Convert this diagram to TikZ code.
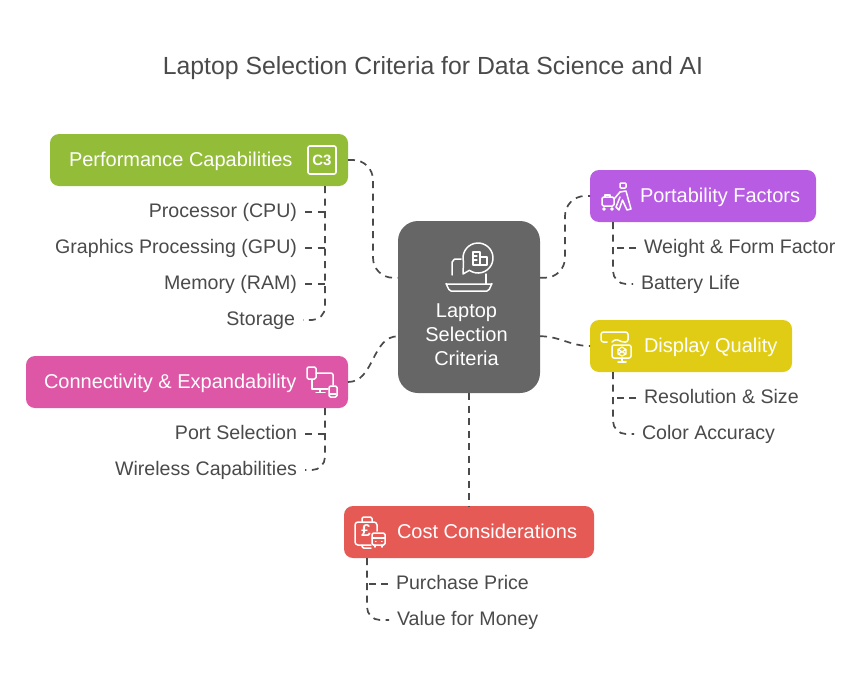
\documentclass[tikz,border=0pt]{standalone}
\usepackage{fontspec}
\setmainfont{Liberation Sans}
\usetikzlibrary{positioning,calc}
\definecolor{HubGray}{RGB}{102,102,102}
\definecolor{PerfGreen}{RGB}{147,189,56}
\definecolor{PortPurple}{RGB}{184,92,227}
\definecolor{DispYellow}{RGB}{224,204,20}
\definecolor{ConnPink}{RGB}{222,87,166}
\definecolor{CostRed}{RGB}{229,90,85}
\definecolor{InkGray}{RGB}{74,74,74}
\begin{document}
\begin{tikzpicture}[
    x=1pt, y=-1pt,
    card/.style={rounded corners=9pt, inner sep=0pt, outer sep=0pt, minimum height=52pt},
    cardtxt/.style={inner sep=0pt, outer sep=0pt, text=white, font=\fontsize{20}{24}\selectfont, text height=17pt, text depth=5pt},
    itemL/.style={inner ysep=0pt, inner xsep=8pt, outer sep=0pt, text=InkGray, font=\fontsize{19.6}{24}\selectfont, text height=16pt, text depth=5pt, anchor=east},
    itemR/.style={itemL, anchor=west},
    link/.style={draw=InkGray, line width=1.7pt, dash pattern=on 7pt off 5.5pt},
    glyph/.style={draw=white, line width=1.5pt, line join=round, line cap=round}
  ]
    \useasboundingbox (0,0) rectangle (866,680);
    \node[inner sep=0pt, text=InkGray, font=\fontsize{24.8}{30}\selectfont] (title) at (433,68) {Laptop Selection Criteria for Data Science and AI};

    \node[card, rounded corners=20pt, fill=HubGray, minimum width=142pt, minimum height=172pt] (hub) at (469,307) {};
    \node[card, fill=PerfGreen, minimum width=298pt] (perf) at (199,160) {};
    \node[card, fill=PortPurple, minimum width=226pt] (port) at (703,196) {};
    \node[card, fill=DispYellow, minimum width=202pt] (disp) at (691,346) {};
    \node[card, fill=ConnPink, minimum width=322pt] (conn) at (187,382) {};
    \node[card, fill=CostRed, minimum width=250pt] (cost) at (469,532) {};

    \node[cardtxt, align=center, text height=, text depth=, below=83pt of hub.north, xshift=-2.5pt] (hubtxt) {Laptop\\Selection\\Criteria};
    \node[cardtxt, right=19pt of perf.west] (perftxt) {Performance Capabilities};
    \node[cardtxt, right=50pt of port.west] (porttxt) {Portability Factors};
    \node[cardtxt, right=54pt of disp.west] (disptxt) {Display Quality};
    \node[cardtxt, right=18pt of conn.west] (conntxt) {Connectivity \& Expandability};
    \node[cardtxt, right=53pt of cost.west] (costtxt) {Cost Considerations};

    \node[itemL] (cpu) at (305,212) {Processor (CPU)};
    \node[itemL, below=15pt of cpu.south east, anchor=north east] (gpu) {Graphics Processing (GPU)};
    \node[itemL, below=15pt of gpu.south east, anchor=north east] (ram) {Memory (RAM)};
    \node[itemL, below=15pt of ram.south east, anchor=north east, xshift=-2pt] (disk) {Storage};
    \node[itemL] (ports) at (305,434) {Port Selection};
    \node[itemL, below=15pt of ports.south east, anchor=north east] (wifi) {Wireless Capabilities};
    \node[itemR] (weight) at (636,248) {Weight \& Form Factor};
    \node[itemR, below=15pt of weight.south west, anchor=north west, xshift=-3pt] (batt) {Battery Life};
    \node[itemR] (res) at (636,398) {Resolution \& Size};
    \node[itemR, below=15pt of res.south west, anchor=north west, xshift=-2pt] (color) {Color Accuracy};
    \node[itemR] (price) at (388,584) {Purchase Price};
    \node[itemR, below=15pt of price.south west, anchor=north west, xshift=1pt] (value) {Value for Money};

    % hub to the five cards
    \coordinate (hubLa) at ($(hub.north west)!.33!(hub.south west)$);
    \coordinate (hubLb) at ($(hub.north west)!.67!(hub.south west)$);
    \coordinate (hubRa) at ($(hub.north east)!.33!(hub.south east)$);
    \coordinate (hubRb) at ($(hub.north east)!.67!(hub.south east)$);
    \draw[link, rounded corners=20pt] (perf.east) -| ($(perf.east)!.5!(hubLa)$) |- (hubLa);
    \draw[link] (conn.east) to[out=0,in=180] (hubLb);
    \draw[link, rounded corners=20pt] (hubRa) -| ($(hubRa)!.5!(port.west)$) |- (port.west);
    \draw[link] (hubRb) to[out=0,in=180] (disp.west);
    \draw[link] (hub.south) -- (cost.north);

    % trunks under the cards
    \coordinate (perfT) at ($(perf.south east)+(-23,0)$);
    \coordinate (connT) at ($(conn.south east)+(-23,0)$);
    \coordinate (portT) at ($(port.south west)+(23,0)$);
    \coordinate (dispT) at ($(disp.south west)+(23,0)$);
    \coordinate (costT) at ($(cost.south west)+(23,0)$);
    \draw[link, rounded corners=13pt] (perfT) |- (disk.east);
    \draw[link, rounded corners=13pt] (connT) |- (wifi.east);
    \draw[link, rounded corners=13pt] (portT) |- (batt.west);
    \draw[link, rounded corners=13pt] (dispT) |- (color.west);
    \draw[link, rounded corners=13pt] (costT) |- (value.west);
    \foreach \leaf in {cpu,gpu,ram} \draw[link] (\leaf.east) -- (\leaf.east -| perfT);
    \draw[link] (ports.east) -- (ports.east -| connT);
    \draw[link] (weight.west) -- (weight.west -| portT);
    \draw[link] (res.west) -- (res.west -| dispT);
    \draw[link] (price.west) -- (price.west -| costT);

    % icons
    \node[draw=white, line width=1.6pt, rounded corners=2pt, minimum size=28pt, inner sep=0pt, text=white, font=\bfseries\fontsize{15}{18}\selectfont] (chip) at (322,160) {C3};

    \draw[glyph] (461,259) -- (455,259) to[out=180,in=-90] (452,262) -- (452,275);
    \draw[glyph] (486,274) -- (486,284);
    \draw[glyph] (446,284) -- (492,284) to[out=90,in=0] (487,291) -- (451,291) to[out=180,in=90] cycle;
    \draw[glyph] (469.4,270.3) -- (463,274) -- (463.5,261.9) arc[start angle=165, end angle=485, radius=15];
    \draw[glyph, line width=1.3pt] (473,265) -- (473,252) -- (480,252) -- (480,265) -- cycle (480,257) -- (487,257) -- (487,265) -- (480,265) (473,256) -- (477,256) (473,260) -- (477,260);

    \draw[glyph, rounded corners=1pt] (620,183) -- (626,183) -- (626,188) -- (620,188) -- cycle;
    \draw[glyph] (614,199) -- (620,192) -- (626,191) -- (631,209) -- (627,210) -- (622.5,200) -- (619,210) -- (616,207) -- (620,197);
    \draw[glyph, rounded corners=1.5pt] (602,197) rectangle (614,206);
    \draw[glyph] (605,197) -- (605,195) -- (610,195) -- (610,197);
    \draw[glyph] (604,209) circle (1pt) (612,209) circle (1pt);

    \draw[glyph, rounded corners=2.5pt] (607,342) -- (601,342) -- (601,332) -- (628,332) -- (628,342) -- (622,342) -- (616,339) -- (612,342);
    \draw[glyph, rounded corners=2pt] (612,345) rectangle (631,358);
    \draw[glyph] (622,358) -- (622,361) (618,362) -- (626,362);
    \draw[glyph, line width=1.2pt] (622,347) -- (626,349.5) -- (626,354) -- (622,356) -- (618,354) -- (618,349.5) -- cycle (618,349.5) -- (626,354) (626,349.5) -- (618,354);

    \draw[glyph, rounded corners=1.5pt] (307,367) rectangle (316,379);
    \draw[glyph, rounded corners=2pt] (316,373) -- (333,373) -- (333,385);
    \draw[glyph] (312,380) -- (312,389) -- (328,389) (320,389) -- (320,392) (316,392.5) -- (325,392.5);
    \draw[glyph, rounded corners=1.5pt] (329,386) rectangle (337,397);
    \draw[glyph] (330,394) -- (336,394);

    \node[inner sep=0pt, text=white, font=\bfseries\fontsize{17}{18}\selectfont] (pound) at (366,531) {£};
    \draw[glyph, rounded corners=3pt] (377,531) -- (377,522) -- (355,522) -- (355,545) -- (371,545);
    \draw[glyph, rounded corners=1.5pt] (362,522) -- (362,517) -- (372,517) -- (372,522) (362,545) -- (362,548) -- (371,548);
    \draw[glyph, rounded corners=1.5pt] (372,533) rectangle (385,545);
    \draw[glyph] (372,538) -- (385,538) (375,545) -- (375,547) (382,545) -- (382,547) (375.5,541.5) -- (376,541.5) (381.5,541.5) -- (382,541.5);
  \end{tikzpicture}
\end{document}
